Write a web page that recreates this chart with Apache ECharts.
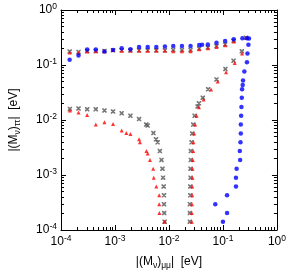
<!DOCTYPE html>
<html><head><meta charset="utf-8">
<script src="https://cdn.jsdelivr.net/npm/echarts@6/dist/echarts.min.js"></script>
<style>html,body{margin:0;padding:0;background:#fff}#c{width:289px;height:275px}</style>
</head><body><div id="c"></div>
<script>
const grayX = [1.45e-4,2.11e-4,3.05e-4,4.41e-4,6.38e-4,9.2e-4,1.33e-3,1.93e-3,2.79e-3,4.03e-3,5.82e-3,8.41e-3,1.2e-2,1.74e-2,2.51e-2,3.63e-2,5.25e-2,7.59e-2,0.11,0.158,0.267,
  1.46e-4,2.11e-4,3.05e-4,4.41e-4,6.38e-4,9.2e-4,1.33e-3,1.93e-3,2.79e-3,3.78e-3,4.03e-3,5.15e-3,5.75e-3,6.16e-3,6.78e-3,7.26e-3,7.57e-3,7.77e-3,7.98e-3,8.09e-3,8.09e-3,8.15e-3,8.32e-3,
  0.0244,0.0244,0.0244,0.0248,0.0248,0.0251,0.0251,0.0254,0.0254,0.0262,0.0269,0.0281,0.0299,0.0339,0.0359,0.0423,0.0531,0.0759,0.111,0.157,0.224];
const grayY = [0.176,0.173,0.180,0.180,0.180,0.185,0.185,0.185,0.185,0.185,0.185,0.185,0.188,0.188,0.188,0.199,0.207,0.221,0.237,0.276,0.312,
  0.0159,0.0162,0.0157,0.0157,0.0149,0.0143,0.0133,0.0119,0.0104,0.00824,0.00791,0.00579,0.00445,0.00393,0.00272,0.00188,0.0013,8.95e-4,6.18e-4,4.27e-4,2.95e-4,2.04e-4,1.41e-4,
  1.41e-4,2.04e-4,2.95e-4,4.27e-4,6.18e-4,8.95e-4,1.3e-3,1.88e-3,2.72e-3,3.93e-3,5.69e-3,8.24e-3,1.19e-2,1.76e-2,2.01e-2,2.54e-2,3.62e-2,5.46e-2,8.48e-2,0.119,0.178];
const redX = [1.45e-4,2.11e-4,3.05e-4,4.41e-4,6.38e-4,9.2e-4,1.33e-3,1.93e-3,2.79e-3,4.03e-3,5.82e-3,8.41e-3,1.2e-2,1.74e-2,2.51e-2,3.63e-2,5.25e-2,7.59e-2,0.11,0.158,0.278,
  1.46e-4,2.11e-4,3.05e-4,4.41e-4,6.38e-4,9.2e-4,1.33e-3,1.62e-3,1.93e-3,2.79e-3,2.9e-3,3.82e-3,4.03e-3,4.45e-3,5.1e-3,5.22e-3,5.82e-3,6.59e-3,6.59e-3,6.64e-3,8.22e-3,
  0.0265,0.0265,0.0267,0.0269,0.0269,0.0273,0.0273,0.0276,0.0281,0.0284,0.0292,0.0305,0.0325,0.0359,0.0437,0.0601,0.080,0.114,0.165,0.226];
const redY = [0.169,0.166,0.176,0.178,0.178,0.188,0.182,0.182,0.182,0.182,0.182,0.182,0.178,0.178,0.178,0.193,0.201,0.212,0.228,0.268,0.312,
  0.0149,0.0137,0.0123,0.00824,0.0091,0.00849,0.00644,0.00579,0.00556,0.00445,0.00393,0.00272,0.00247,0.00188,0.0013,8.95e-4,6.18e-4,4.27e-4,2.95e-4,2.04e-4,1.41e-4,
  1.41e-4,2.04e-4,2.95e-4,4.27e-4,6.18e-4,8.95e-4,1.3e-3,1.88e-3,2.72e-3,3.93e-3,5.69e-3,8.24e-3,1.19e-2,1.7e-2,2.37e-2,3.58e-2,5.03e-2,7.41e-2,0.109,0.162];
const blueX = [1.445e-4,2.11e-4,3.05e-4,4.41e-4,6.38e-4,9.2e-4,1.33e-3,1.93e-3,2.79e-3,4.03e-3,5.82e-3,8.41e-3,1.2e-2,1.74e-2,2.51e-2,3.63e-2,4.1e-2,5.25e-2,7.59e-2,0.1096,0.158,0.229,0.278,0.303,
  0.296,0.284,0.278,0.249,0.235,0.232,0.226,0.223,0.220,0.217,0.214,0.214,0.211,0.205,0.208,0.179,0.174,0.174,0.119,0.072,0.119,0.0998];
const blueY = [0.124,0.149,0.191,0.191,0.176,0.188,0.201,0.193,0.212,0.212,0.212,0.218,0.221,0.221,0.221,0.230,0.234,0.237,0.254,0.272,0.295,0.307,0.307,0.303,
  0.234,0.162,0.112,0.0759,0.0524,0.0434,0.0362,0.0254,0.0173,0.01194,0.00824,0.00569,0.00393,0.00272,0.00188,0.0013,8.95e-4,6.18e-4,4.27e-4,2.95e-4,2.04e-4,1.41e-4];
const axisMin = 1e-4, axisMax = 1;
const xTitle = ['|(M', 'ν', ')', 'μμ', '|  [eV]'];
const yTitle = ['|(M', 'ν', ')', 'ττ', '|  [eV]'];

const pairs = (xs, ys) => xs.map((x, i) => [x, ys[i]]);
const FONT = 'Liberation Sans';
const powLabel = v => '{b|10}{s|' + Math.round(Math.log10(v)) + '}';
const rich = {
  b: {fontSize: 12, fontFamily: FONT, color: '#000', lineHeight: 16},
  s: {fontSize: 8.5, fontFamily: FONT, color: '#000', verticalAlign: 'top', lineHeight: 8}
};
const nameRich = {
  b: {fontSize: 12, fontFamily: FONT, color: '#000', lineHeight: 16},
  sub: {fontSize: 8.5, fontFamily: FONT, color: '#000', verticalAlign: 'bottom', lineHeight: 9}
};
const titleText = t => '{b|' + t[0] + '}{sub|' + t[1] + '}{b|' + t[2] + '}{sub|' + t[3] + '}{b|' + t[4] + '}';
const baseAxis = (extra) => Object.assign({
  type: 'log', logBase: 10, min: axisMin, max: axisMax,
  axisLine: {show: true, onZero: false, lineStyle: {color: '#000', width: 1}},
  axisTick: {show: true, inside: true, length: 5, lineStyle: {color: '#000'}},
  minorTick: {show: true, splitNumber: 9, length: 3, lineStyle: {color: '#000'}},
  splitLine: {show: false}, minorSplitLine: {show: false}
}, extra);

const chart = echarts.init(document.getElementById('c'), null, {renderer: 'canvas'});
chart.setOption({
  animation: false,
  backgroundColor: '#fff',
  grid: {left: 53, right: 11, top: 10, bottom: 41},
  xAxis: [
    baseAxis({position: 'bottom', axisLabel: {formatter: powLabel, rich: rich, margin: 4},
      name: titleText(xTitle), nameLocation: 'middle', nameGap: 24, nameTextStyle: {rich: nameRich}}),
    baseAxis({position: 'top', axisLabel: {show: false}})
  ],
  yAxis: [
    baseAxis({position: 'left', axisLabel: {formatter: powLabel, rich: rich, margin: 4},
      name: titleText(yTitle), nameLocation: 'middle', nameRotate: 90, nameGap: 39, nameTextStyle: {rich: nameRich}}),
    baseAxis({position: 'right', axisLabel: {show: false}})
  ],
  series: [
    {type: 'scatter', name: 'gray', data: pairs(grayX, grayY), symbol: 'path://M0,0L1.3,0L5,3.7L5,5L3.7,5L0,1.3Z M3.7,0L5,0L5,1.3L1.3,5L0,5L0,3.7Z', symbolSize: 4.5,
      itemStyle: {color: '#555'}},
    {type: 'scatter', name: 'red', data: pairs(redX, redY), symbol: 'triangle', symbolSize: 4,
      itemStyle: {color: '#ff0000'}},
    {type: 'scatter', name: 'blue', data: pairs(blueX, blueY), symbol: 'circle', symbolSize: 4.5,
      itemStyle: {color: '#0000ff'}}
  ]
});
</script></body></html>
